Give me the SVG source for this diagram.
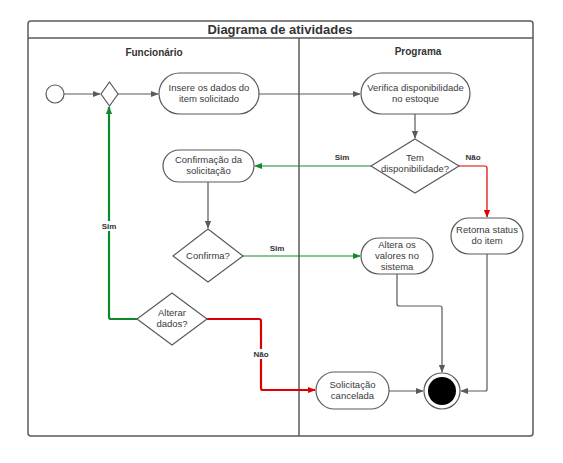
<svg xmlns="http://www.w3.org/2000/svg" width="563" height="463" viewBox="0 0 563 463">
<defs>
<marker id="ag" viewBox="0 0 10 10" refX="9" refY="5" markerWidth="8" markerHeight="8" markerUnits="userSpaceOnUse" orient="auto"><path d="M0,1 L10,5 L0,9 z" fill="#5a5a5a"/></marker>
<marker id="agr" viewBox="0 0 10 10" refX="9" refY="5" markerWidth="8" markerHeight="8" markerUnits="userSpaceOnUse" orient="auto"><path d="M0,1 L10,5 L0,9 z" fill="#12892e"/></marker>
<marker id="ard" viewBox="0 0 10 10" refX="9" refY="5" markerWidth="8" markerHeight="8" markerUnits="userSpaceOnUse" orient="auto"><path d="M0,1 L10,5 L0,9 z" fill="#e00000"/></marker>
</defs>
<style>
.frame{fill:#ffffff;stroke:#5a5a5a;stroke-width:1.5}
.node{fill:#ffffff;stroke:#5a5a5a;stroke-width:1.2}
.t{font-family:"Liberation Sans",Arial,sans-serif;font-size:9.5px;fill:#3a3a3a;text-anchor:middle}
.h{font-family:"Liberation Sans",Arial,sans-serif;font-weight:bold;fill:#333333;text-anchor:middle}
.lb{font-family:"Liberation Sans",Arial,sans-serif;font-weight:bold;font-size:8px;fill:#333333;text-anchor:middle}
.c{fill:none;stroke:#5a5a5a;stroke-width:1.2}
.g{fill:none;stroke:#12892e;stroke-width:1.2}
.gb{fill:none;stroke:#0b8a25;stroke-width:2.2}
.r{fill:none;stroke:#e00000;stroke-width:1.2}
.rb{fill:none;stroke:#dd0000;stroke-width:2.2}
</style>
<rect width="563" height="463" fill="#ffffff"/>
<g id="frame">
<rect class="frame" x="28" y="21" width="505" height="415" rx="3"/>
<line x1="28" y1="38" x2="533" y2="38" stroke="#5a5a5a" stroke-width="1.5"/>
<line x1="299" y1="38" x2="299" y2="436" stroke="#5a5a5a" stroke-width="1.5"/>
<text class="h" x="280" y="34" font-size="13">Diagrama de atividades</text>
<text class="h" x="154" y="56" font-size="10">Funcionário</text>
<text class="h" x="418" y="55" font-size="10">Programa</text>
</g>
<g id="connectors">
<line class="c" x1="64" y1="94" x2="100" y2="94" marker-end="url(#ag)"/>
<line class="c" x1="118" y1="94" x2="158" y2="94" marker-end="url(#ag)"/>
<line class="c" x1="259" y1="94" x2="360" y2="94" marker-end="url(#ag)"/>
<line class="c" x1="415" y1="114" x2="415" y2="138" marker-end="url(#ag)"/>
<line class="g" x1="371" y1="166" x2="255" y2="166" marker-end="url(#agr)"/>
<path class="r" d="M459,166 H485 Q487,166 487,168 V217" marker-end="url(#ard)"/>
<line class="c" x1="208" y1="182" x2="208" y2="228" marker-end="url(#ag)"/>
<line class="g" x1="243" y1="256" x2="360" y2="256" marker-end="url(#agr)"/>
<path class="c" d="M397,274 V304 Q397,306 399,306 H440 Q442,306 442,308 V372" marker-end="url(#ag)"/>
<path class="c" d="M487,254 V389 Q487,391 485,391 H461" marker-end="url(#ag)"/>
<path class="gb" d="M137,319 H111 Q109,319 109,317 V107" marker-end="url(#agr)"/>
<path class="rb" d="M207,319 H259 Q261,319 261,321 V388 Q261,390 263,390 H315" marker-end="url(#ard)"/>
<line class="c" x1="389" y1="391" x2="423" y2="391" marker-end="url(#ag)"/>
<rect x="331" y="152" width="22" height="10" fill="#ffffff"/>
<text class="lb" x="342" y="160">Sim</text>
<text class="lb" x="473" y="160">Não</text>
<text class="lb" x="277" y="251">Sim</text>
<rect x="99" y="221" width="20" height="10" fill="#ffffff"/>
<text class="lb" x="109" y="229">Sim</text>
<rect x="250" y="349" width="22" height="10" fill="#ffffff"/>
<text class="lb" x="261" y="357">Não</text>
</g>
<g id="start"><circle class="node" cx="55" cy="94" r="9"/></g>
<g id="merge"><polygon class="node" points="109.5,82 118,94 109.5,106 101,94"/></g>
<g id="insere"><rect class="node" x="159" y="73" width="100" height="41" rx="20.5"/>
<text class="t" x="209" y="91">Insere os dados do</text><text class="t" x="209" y="102">item solicitado</text></g>
<g id="verifica"><rect class="node" x="361" y="73" width="109" height="41" rx="20.5"/>
<text class="t" x="415.5" y="91">Verifica disponibilidade</text><text class="t" x="415.5" y="102">no estoque</text></g>
<g id="tem"><polygon class="node" points="415,139 459,166 415,193 371,166"/>
<text class="t" x="415" y="161">Tem</text><text class="t" x="415" y="172">disponibilidade?</text></g>
<g id="confirmacao"><rect class="node" x="163" y="150" width="91" height="32" rx="16"/>
<text class="t" x="208.5" y="163">Confirmação da</text><text class="t" x="208.5" y="174">solicitação</text></g>
<g id="retorna"><rect class="node" x="451" y="218" width="72" height="36" rx="18"/>
<text class="t" x="487" y="233">Retorna status</text><text class="t" x="487" y="244">do item</text></g>
<g id="confirma"><polygon class="node" points="208,229 243,256 208,282 173,256"/>
<text class="t" x="208" y="259">Confirma?</text></g>
<g id="altera"><rect class="node" x="361" y="238" width="72" height="36" rx="18"/>
<text class="t" x="397" y="248">Altera os</text><text class="t" x="397" y="259">valores no</text><text class="t" x="397" y="270">sistema</text></g>
<g id="alterar"><polygon class="node" points="172,293 207,319 172,345 137,319"/>
<text class="t" x="172" y="316">Alterar</text><text class="t" x="172" y="327">dados?</text></g>
<g id="cancelada"><rect class="node" x="316" y="372" width="73" height="37" rx="18.5"/>
<text class="t" x="352.5" y="388">Solicitação</text><text class="t" x="352.5" y="399">cancelada</text></g>
<g id="end"><circle class="node" cx="442" cy="391" r="18"/><circle cx="442" cy="391" r="14" fill="#000000"/></g>
</svg>
